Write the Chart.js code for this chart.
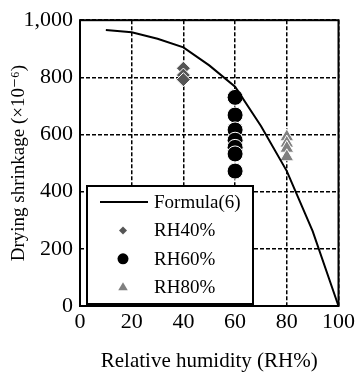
<!DOCTYPE html>
<html>
<head>
<meta charset="utf-8">
<script src="https://cdn.jsdelivr.net/npm/chart.js@4"></script>
<style>
html, body { margin: 0; padding: 0; background: #fff; }
#wrap { width: 358px; height: 372px; }
</style>
</head>
<body>
<div id="wrap"><canvas id="shrinkageChart" width="358" height="372"></canvas></div>
<script>
// curve of formula (6) and measured points
const formulaRH = [10, 20, 30, 40, 50, 60, 70, 80, 90, 100];
const formulaShrinkage = [966, 958, 935, 905, 842, 767, 630, 472, 262, 0];
const rh40Shrinkage = [832, 808, 792];
const rh60Shrinkage = [730, 668, 616, 580, 555, 532, 472];
const rh80Shrinkage = [592, 570, 552, 522];
const xTicks = [0, 20, 40, 60, 80, 100];
const yTicks = [0, 200, 400, 600, 800, 1000];

const FONT = '"Liberation Serif", "DejaVu Serif", serif';

function pts(x, ys) {
    return ys.map(y => ({ x: x, y: y }));
}

// small marker used in the boxed legend
function legendMarker(ctx, style, x, y, r) {
    ctx.beginPath();
    if (style === 'rectRot') {
        ctx.moveTo(x, y - r); ctx.lineTo(x + r, y); ctx.lineTo(x, y + r); ctx.lineTo(x - r, y);
    } else if (style === 'triangle') {
        ctx.moveTo(x, y - r); ctx.lineTo(x + r * 0.95, y + r * 0.6); ctx.lineTo(x - r * 0.95, y + r * 0.6);
    } else {
        ctx.arc(x, y, r, 0, Math.PI * 2);
    }
    ctx.closePath();
    ctx.fill();
}

const boxLegend = {
    id: 'boxLegend',
    afterDraw(chart) {
        const ctx = chart.ctx;
        const a = chart.chartArea;
        const x0 = a.left + 7, y0 = a.bottom - 120, w = 166, h = 118;
        ctx.save();
        // frame around the plot
        ctx.lineWidth = 2;
        ctx.strokeStyle = '#000';
        ctx.strokeRect(a.left, a.top, a.right - a.left, a.bottom - a.top);
        // legend box
        ctx.fillStyle = '#fff';
        ctx.fillRect(x0, y0, w, h);
        ctx.strokeRect(x0, y0, w, h);
        ctx.font = '19px ' + FONT;
        ctx.textBaseline = 'middle';
        chart.data.datasets.forEach((ds, i) => {
            const cy = y0 + 16 + i * 28.4;
            if (ds.showLine) {
                ctx.beginPath();
                ctx.lineWidth = 2;
                ctx.strokeStyle = ds.borderColor;
                ctx.moveTo(x0 + 13, cy);
                ctx.lineTo(x0 + 61, cy);
                ctx.stroke();
            } else {
                ctx.fillStyle = ds.backgroundColor;
                legendMarker(ctx, ds.pointStyle, x0 + 36, cy, ds.legendRadius);
            }
            ctx.fillStyle = '#000';
            ctx.fillText(ds.label, x0 + 67, cy + 1);
        });
        ctx.restore();
    }
};

const ctx = document.getElementById('shrinkageChart').getContext('2d');

const shrinkageChart = new Chart(ctx, {
    type: 'scatter',
    data: {
        datasets: [{
            label: 'Formula(6)',
            data: formulaRH.map((x, i) => ({ x: x, y: formulaShrinkage[i] })),
            showLine: true,
            borderColor: '#000',
            borderWidth: 2,
            pointRadius: 0,
            tension: 0
        }, {
            label: 'RH40%',
            data: pts(40, rh40Shrinkage),
            pointStyle: 'rectRot',
            pointRadius: 7,
            backgroundColor: '#555555',
            borderColor: '#fff',
            borderWidth: 1,
            legendRadius: 4
        }, {
            label: 'RH60%',
            data: pts(60, rh60Shrinkage),
            pointStyle: 'circle',
            pointRadius: 8,
            backgroundColor: '#000',
            borderColor: '#fff',
            borderWidth: 1,
            legendRadius: 5.5
        }, {
            label: 'RH80%',
            data: pts(80, rh80Shrinkage),
            pointStyle: 'triangle',
            pointRadius: 8,
            backgroundColor: '#808080',
            borderColor: '#fff',
            borderWidth: 1,
            legendRadius: 5
        }]
    },
    options: {
        responsive: false,
        animation: false,
        devicePixelRatio: 1,
        layout: { padding: { top: 15, right: 19, left: 0, bottom: 0 } },
        plugins: {
            legend: { display: false },
            tooltip: { enabled: false }
        },
        scales: {
            x: {
                type: 'linear',
                min: 0,
                max: 100,
                afterBuildTicks: s => { s.ticks = xTicks.map(v => ({ value: v })); },
                afterFit: s => { s.height = 66; },
                grid: { color: '#000', lineWidth: 1.5, drawTicks: false },
                border: { display: false, dash: [4, 2] },
                ticks: { color: '#000', padding: 3, maxRotation: 0, font: { family: FONT, size: 22 } },
                title: {
                    display: true,
                    text: 'Relative humidity (RH%)',
                    color: '#000',
                    padding: { top: 0, bottom: -2 },
                    font: { family: FONT, size: 21 }
                }
            },
            y: {
                min: 0,
                max: 1000,
                afterBuildTicks: s => { s.ticks = yTicks.map(v => ({ value: v })); },
                afterFit: s => { s.width = 80; },
                grid: { color: '#000', lineWidth: 1.5, drawTicks: false },
                border: { display: false, dash: [4, 2] },
                ticks: {
                    color: '#000',
                    padding: 7,
                    font: { family: FONT, size: 22 },
                    callback: v => v.toLocaleString('en-US')
                },
                title: {
                    display: true,
                    text: 'Drying shrinkage (×10⁻⁶)',
                    color: '#000',
                    padding: { top: 8, bottom: 0 },
                    font: { family: FONT, size: 19 }
                }
            }
        }
    },
    plugins: [boxLegend]
});
</script>
</body>
</html>
